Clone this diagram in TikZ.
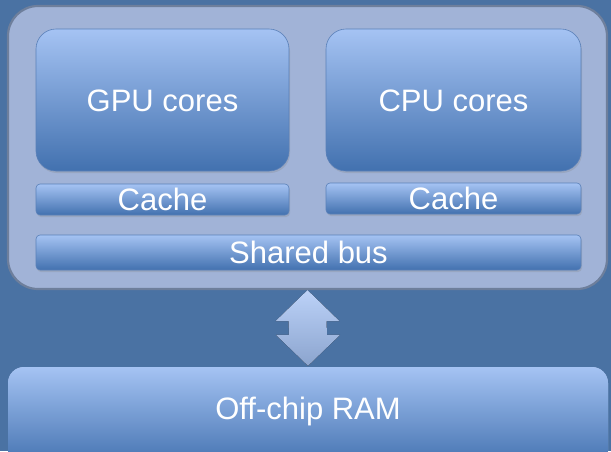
\documentclass[tikz,border=0pt]{standalone}
\usepackage{fontspec}
\setmainfont{Liberation Sans}
\usetikzlibrary{calc,shadows}
\definecolor{bgblue}{HTML}{4A72A3}
\definecolor{chipfill}{HTML}{A1B3D7}
\definecolor{chipedge}{HTML}{6E7F9C}
\definecolor{boxtop}{HTML}{A5C3F3}
\definecolor{boxbot}{HTML}{4271AF}
\definecolor{boxedge}{HTML}{5A80B8}
\definecolor{arrtop}{HTML}{BCD2F8}
\definecolor{arrbot}{HTML}{8BA4CE}
\tikzset{
  unitbox/.style={draw=boxedge, line width=0.6pt, top color=boxtop, bottom color=boxbot,
    inner sep=0pt, text=white, font=\fontsize{31}{36}\selectfont,
    text height=22pt, text depth=0pt,
    drop shadow={opacity=0.25, shadow xshift=1pt, shadow yshift=-2pt}},
  corebox/.style={unitbox, rounded corners=20pt},
  barbox/.style={unitbox, rounded corners=4pt},
  chipbox/.style={draw=chipedge, line width=2.2pt, fill=chipfill, rounded corners=30pt, inner sep=0pt},
  ramlabel/.style={text=white, font=\fontsize{31}{36}\selectfont, inner sep=0pt,
    text height=22pt, text depth=0pt},
  busarrow/.style={top color=arrtop, bottom color=arrbot, draw=none}
}
\begin{document}
\begin{tikzpicture}[x=1pt,y=-1pt]
  \fill[bgblue] (0,0) rectangle (611,451);
  \useasboundingbox (0,0) rectangle (611,451);

  % the chip outline
  \node[chipbox, minimum width=599pt, minimum height=283pt] (chip) at (307.5,147.5) {};

  % cores and their caches
  \node[corebox, minimum width=253pt, minimum height=142pt] (gpu) at (162.5,100) {GPU cores};
  \node[corebox, minimum width=255pt, minimum height=142pt] (cpu) at (453.5,100) {CPU cores};
  \node[barbox, minimum width=253pt, minimum height=31pt] (gcache) at (162.5,199.5) {Cache};
  \node[barbox, minimum width=255pt, minimum height=31pt] (ccache) at (453.5,198.5) {Cache};
  \node[barbox, minimum width=545pt, minimum height=35pt] (bus) at (308.5,252.5) {Shared bus};

  % main memory, running off the bottom edge
  \node[chipbox, draw=none, top color=boxtop, bottom color=boxbot, rounded corners=16pt,
        minimum width=600pt, minimum height=100pt] (ram) at (308,417) {};
  \node[ramlabel] (ramtext) at ($(ram.north)+(0,42.5)$) {Off-chip RAM};

  % two-way arrow between chip and memory
  \coordinate (a) at (chip.south);
  \coordinate (b) at (ram.north);
  \fill[busarrow]
    (a) -- ($(a)+(32,31)$) -- ($(a)+(19,31)$) -- ($(b)+(19,-31)$) -- ($(b)+(32,-31)$)
    -- (b) -- ($(b)+(-32,-31)$) -- ($(b)+(-19,-31)$) -- ($(a)+(-19,31)$) -- ($(a)+(-32,31)$) -- cycle;
\end{tikzpicture}
\end{document}
